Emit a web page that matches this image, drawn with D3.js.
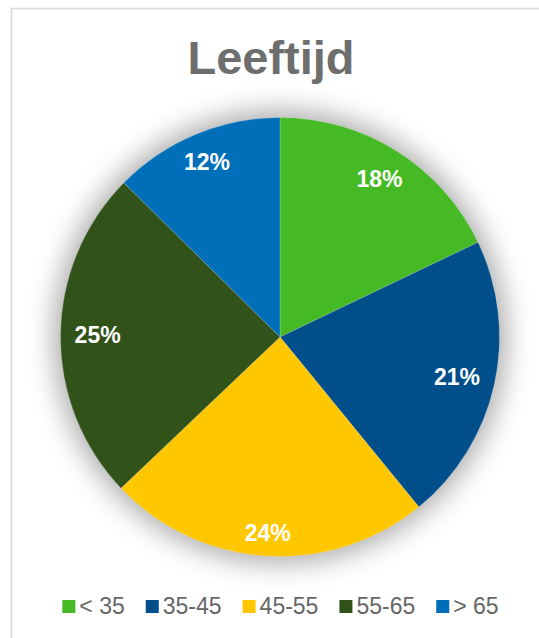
<!DOCTYPE html>
<html>
<head>
<meta charset="utf-8">
<script src="https://cdn.jsdelivr.net/npm/d3@7"></script>
<style>
  body { margin: 0; background: #fff; }
  svg { display: block; }
</style>
</head>
<body>
<script>
// chart data (shares, labels as printed)
const categories = ['< 35', '35-45', '45-55', '55-65', '> 65'];
const values = [17.9, 21.2, 23.8, 24.5, 12.6];
const labels = ['18%', '21%', '24%', '25%', '12%'];
const colors = ['#45ba24', '#004f8a', '#ffc700', '#31531a', '#006fba'];
const title = 'Leeftijd';

const w = 539, h = 638;
const cx = 280, cy = 337, r = 219.5;

let svg = d3.select('body')
            .append('svg')
            .attr('width', w)
            .attr('height', h);

// soft glow under the pie
let defs = svg.append('defs');
let f = defs.append('filter')
  .attr('id', 'glow')
  .attr('x', '-30%').attr('y', '-30%')
  .attr('width', '160%').attr('height', '160%');
f.append('feGaussianBlur').attr('stdDeviation', 14);

// chart frame (runs off right/bottom)
svg.append('rect')
  .attr('x', 11.5).attr('y', 8.5)
  .attr('width', w + 20).attr('height', h + 20)
  .attr('fill', '#fff')
  .attr('stroke', '#d9d9d9')
  .attr('stroke-width', 1.6);

svg.append('text')
  .attr('x', 271).attr('y', 74)
  .attr('text-anchor', 'middle')
  .style('font-family', 'Liberation Sans, Arial, sans-serif')
  .style('font-weight', 'bold')
  .style('font-size', '47px')
  .attr('fill', '#6e6e6e')
  .text(title);

let g = svg.append('g').attr('transform', `translate(${cx},${cy})`);

g.append('circle')
  .attr('r', r + 6)
  .attr('fill', '#000')
  .attr('opacity', 0.34)
  .attr('filter', 'url(#glow)');

const pie = d3.pie().sort(null).value(d => d)(values);
const arc = d3.arc().innerRadius(0).outerRadius(r);

g.selectAll('path.slice')
  .data(pie)
  .enter()
    .append('path')
    .attr('class', 'slice')
    .attr('d', arc)
    .attr('fill', (d, i) => colors[i])
    .attr('stroke', '#fff')
    .attr('stroke-width', 0.4)
    .attr('stroke-opacity', 0.5);

// labels placed "inside end", box kept a margin from the rim
const margin = 14;
g.selectAll('text.lbl')
  .data(pie)
  .enter()
    .append('text')
    .attr('class', 'lbl')
    .attr('text-anchor', 'middle')
    .style('font-family', 'Liberation Sans, Arial, sans-serif')
    .style('font-weight', 'bold')
    .style('font-size', '23px')
    .attr('fill', '#fff')
    .text((d, i) => labels[i])
    .each(function(d) {
      const a = (d.startAngle + d.endAngle) / 2;
      const tw = this.getComputedTextLength(), th = 16;
      const s = Math.sin(a), c = Math.cos(a);
      const ext = Math.abs(s) * tw / 2 + Math.abs(c) * th / 2;
      const dist = r - margin - ext;
      d3.select(this)
        .attr('x', s * dist)
        .attr('y', -c * dist + th / 2);
    });

// legend
let lg = svg.append('g');
const sq = 13, gapT = 4, gapItem = 21, legendCx = 280.5, base = 614;
let items = lg.selectAll('g.item')
  .data(categories)
  .enter()
    .append('g')
    .attr('class', 'item');
items.append('rect')
  .attr('width', sq).attr('height', sq)
  .attr('y', 600)
  .attr('fill', (d, i) => colors[i]);
items.append('text')
  .attr('x', sq + gapT)
  .attr('y', base)
  .style('font-family', 'Liberation Sans, Arial, sans-serif')
  .style('font-size', '23px')
  .attr('fill', '#666')
  .text(d => d);

let widths = [];
items.each(function() {
  widths.push(sq + gapT + d3.select(this).select('text').node().getComputedTextLength());
});
const totalW = d3.sum(widths) + gapItem * (widths.length - 1);
let xpos = legendCx - totalW / 2;
items.each(function(d, i) {
  d3.select(this).attr('transform', `translate(${xpos},0)`);
  xpos += widths[i] + gapItem;
});
</script>
</body>
</html>
